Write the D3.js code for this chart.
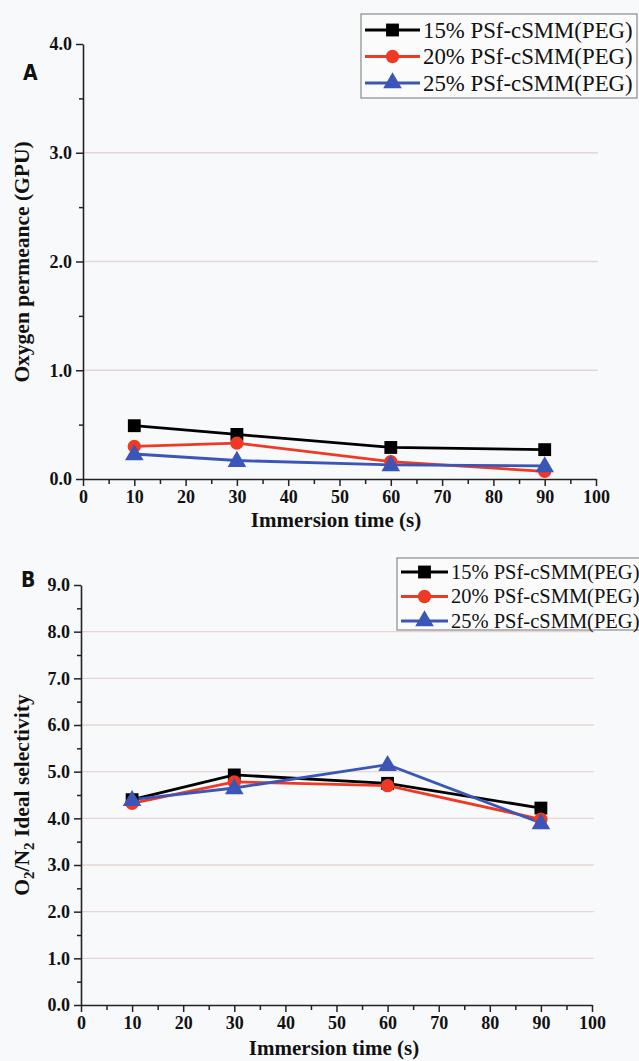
<!DOCTYPE html>
<html><head><meta charset="utf-8">
<script src="https://cdn.jsdelivr.net/npm/d3@7"></script>
<style>
html,body{margin:0;padding:0;background:#f8f9fb;}
svg{display:block;}
</style></head>
<body>
<script>
// ---- data ----
const times = [10, 30, 60, 90];
const seriesNames = ["15% PSf-cSMM(PEG)", "20% PSf-cSMM(PEG)", "25% PSf-cSMM(PEG)"];
const seriesColors = ["#000000", "#ee3a24", "#3b56b6"];
const seriesShapes = ["square", "circle", "triangle"];
// Panel A: oxygen permeance (GPU)
const permeance15 = [0.49, 0.41, 0.29, 0.27];
const permeance20 = [0.30, 0.33, 0.16, 0.07];
const permeance25 = [0.23, 0.17, 0.13, 0.12];
// Panel B: O2/N2 ideal selectivity
const selectivity15 = [4.40, 4.93, 4.75, 4.22];
const selectivity20 = [4.32, 4.78, 4.70, 3.98];
const selectivity25 = [4.40, 4.65, 5.15, 3.90];
const xTicks = [0, 10, 20, 30, 40, 50, 60, 70, 80, 90, 100];
const yTicksA = [0, 1, 2, 3, 4];
const yTicksB = [0, 1, 2, 3, 4, 5, 6, 7, 8, 9];

const W = 639, H = 1061;
const svg = d3.select("body").append("svg").attr("width", W).attr("height", H);
svg.append("rect").attr("width", W).attr("height", H).attr("fill", "#f8f9fb");

const serif = "'Liberation Serif','Times New Roman',serif";

function symbolFor(shape) {
  if (shape === "square") return d3.symbol().type(d3.symbolSquare).size(165);
  if (shape === "circle") return d3.symbol().type(d3.symbolCircle).size(140);
  return d3.symbol().type(d3.symbolTriangle).size(150);
}

function panel(opts) {
  const g = svg.append("g");
  const x = d3.scaleLinear().domain([0, 100]).range(opts.xr);
  const y = d3.scaleLinear().domain([0, opts.ymax]).range(opts.yr);

  // grid lines
  g.selectAll(".grid").data(opts.grid).enter().append("line")
    .attr("x1", x(0) + 1).attr("x2", x(100) + 2)
    .attr("y1", d => y(d)).attr("y2", d => y(d))
    .attr("stroke", "#e6d6d3").attr("stroke-width", 1.3);

  // minor ticks
  const yMinor = d3.range(0.5, opts.ymax, 1);
  const xMinor = d3.range(5, 100, 10);
  const xAxisMinor = d3.axisBottom(x).tickValues(xMinor).tickSize(5).tickFormat("");
  const yAxisMinor = d3.axisLeft(y).tickValues(yMinor).tickSize(4).tickFormat("");
  g.append("g").attr("transform", `translate(0,${y(0)})`).call(xAxisMinor)
    .call(s => s.select(".domain").remove())
    .selectAll("line").attr("stroke", "#222").attr("stroke-width", 1.5);
  g.append("g").attr("transform", `translate(${x(0)},0)`).call(yAxisMinor)
    .call(s => s.select(".domain").remove())
    .selectAll("line").attr("stroke", "#222").attr("stroke-width", 1.5);

  // major axes
  const xAxis = d3.axisBottom(x).tickValues(xTicks).tickSize(7).tickSizeOuter(0).tickPadding(4);
  const yAxis = d3.axisLeft(y).tickValues(opts.yTicks).tickSize(7).tickSizeOuter(0).tickPadding(4)
    .tickFormat(d3.format(".1f"));
  const gx = g.append("g").attr("transform", `translate(0,${y(0)})`).call(xAxis);
  const gy = g.append("g").attr("transform", `translate(${x(0)},0)`).call(yAxis);
  [gx, gy].forEach(a => {
    a.select(".domain").attr("stroke", "#222").attr("stroke-width", 1.6);
    a.selectAll(".tick line").attr("stroke", "#222").attr("stroke-width", 1.5);
    a.selectAll("text").attr("font-family", serif).attr("font-weight", "bold")
      .attr("font-size", 18).attr("fill", "#111");
  });

  // series
  opts.series.forEach((vals, i) => {
    const pts = times.map((t, j) => [t, vals[j]]);
    g.append("path").datum(pts)
      .attr("fill", "none").attr("stroke", seriesColors[i]).attr("stroke-width", 2.8)
      .attr("d", d3.line().x(d => x(d[0])).y(d => y(d[1])));
  });
  opts.series.forEach((vals, i) => {
    const pts = times.map((t, j) => [t, vals[j]]);
    g.selectAll(null).data(pts).enter().append("path")
      .attr("d", symbolFor(seriesShapes[i])())
      .attr("transform", d => `translate(${x(d[0])},${y(d[1]) + (seriesShapes[i] === "triangle" ? 1 : 0)})`)
      .attr("fill", seriesColors[i]);
  });

  // panel letter
  g.append("text").attr("x", opts.letterPos[0]).attr("y", opts.letterPos[1])
    .attr("font-family", "'DejaVu Sans Condensed','DejaVu Sans',sans-serif").attr("font-weight", "bold")
    .attr("font-size", 21).attr("fill", "#111").text(opts.letter);

  // x label
  g.append("text").attr("x", opts.xLabelPos[0]).attr("y", opts.xLabelPos[1])
    .attr("text-anchor", "middle").attr("font-family", serif).attr("font-weight", "bold")
    .attr("font-size", 21).attr("fill", "#111").text("Immersion time (s)");

  // y label
  const yl = g.append("text")
    .attr("transform", `translate(${opts.yLabelPos[0]},${opts.yLabelPos[1]}) rotate(-90)`)
    .attr("text-anchor", "middle").attr("font-family", serif).attr("font-weight", "bold")
    .attr("font-size", 21.5).attr("fill", "#111");
  opts.yLabel(yl);

  // legend
  const L = opts.legend;
  const lg = g.append("g");
  lg.append("rect").attr("x", L.x).attr("y", L.y).attr("width", L.w).attr("height", L.h)
    .attr("fill", "#fbfbfc").attr("stroke", "#8a8a8a").attr("stroke-width", 1.2);
  seriesNames.forEach((name, i) => {
    const cy = L.y0 + i * L.dy;
    lg.append("line").attr("x1", L.lx1).attr("x2", L.lx2).attr("y1", cy).attr("y2", cy)
      .attr("stroke", seriesColors[i]).attr("stroke-width", 2.8);
    lg.append("path").attr("d", symbolFor(seriesShapes[i])())
      .attr("transform", `translate(${(L.lx1 + L.lx2) / 2},${cy})`).attr("fill", seriesColors[i]);
    lg.append("text").attr("x", L.tx).attr("y", cy + L.fs * 0.34)
      .attr("font-family", serif).attr("font-size", L.fs).attr("fill", "#111").text(name);
  });
}

panel({
  xr: [83, 596], yr: [479, 44], ymax: 4, yTicks: yTicksA, grid: [1, 2, 3],
  series: [permeance15, permeance20, permeance25],
  letter: "A", letterPos: [23, 80],
  xLabelPos: [336, 527], yLabelPos: [29, 262],
  yLabel: t => t.text("Oxygen permeance (GPU)"),
  legend: {x: 361, y: 14, w: 276, h: 84, y0: 30, dy: 26.5, lx1: 365, lx2: 420, tx: 423, fs: 22.8}
});

panel({
  xr: [81, 592], yr: [1005, 585], ymax: 9, yTicks: yTicksB, grid: [1, 2, 3, 4, 5, 6, 7, 8],
  series: [selectivity15, selectivity20, selectivity25],
  letter: "B", letterPos: [21, 587],
  xLabelPos: [334, 1055], yLabelPos: [29, 795],
  yLabel: t => {
    t.append("tspan").text("O");
    t.append("tspan").attr("font-size", 15).attr("dy", 5).text("2");
    t.append("tspan").attr("dy", -5).text("/N");
    t.append("tspan").attr("font-size", 15).attr("dy", 5).text("2");
    t.append("tspan").attr("dy", -5).text(" Ideal selectivity");
  },
  legend: {x: 397, y: 558, w: 250, h: 72, y0: 572, dy: 24.5, lx1: 401, lx2: 448, tx: 451, fs: 20.5}
});
</script>
</body></html>
